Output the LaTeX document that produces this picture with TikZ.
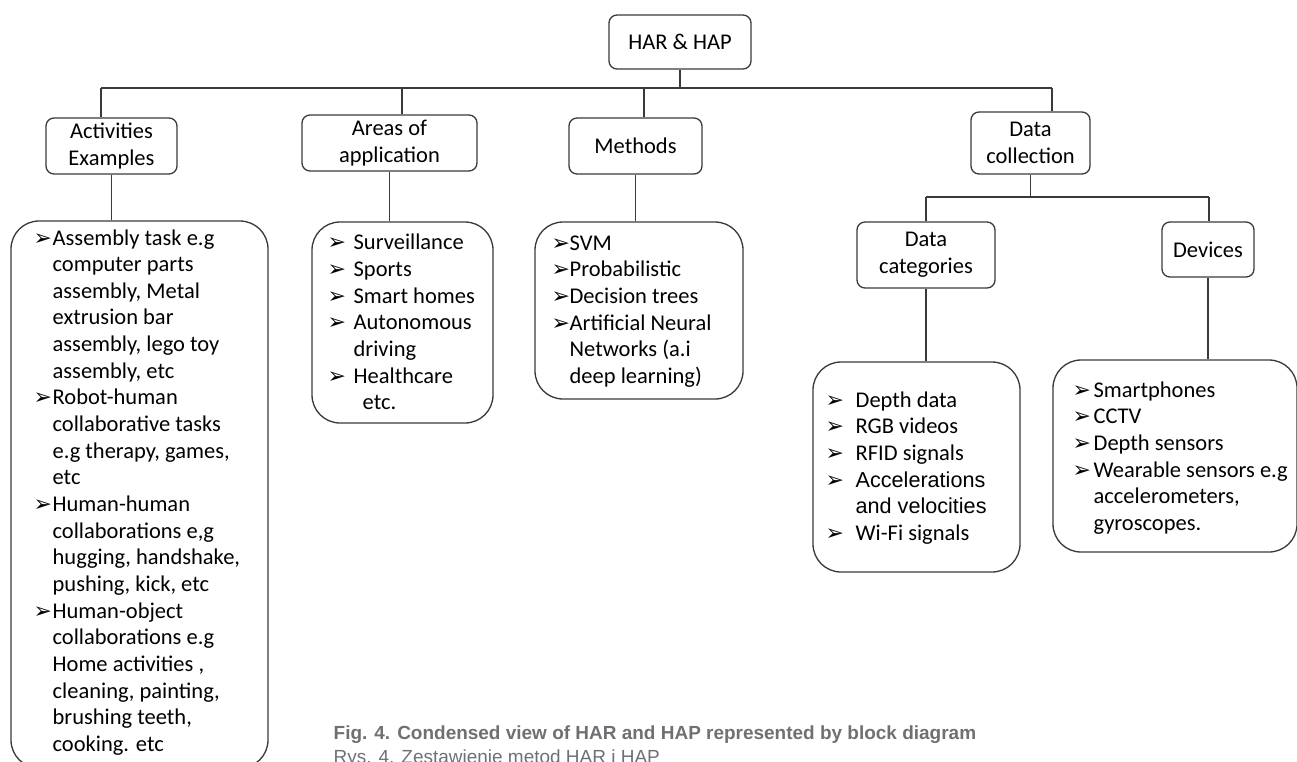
\documentclass[tikz,border=0pt]{standalone}
\usepackage{fontspec}
\setmainfont{Carlito}
\newfontfamily\dejavu{DejaVu Sans}
\newfontfamily\arialfont{Liberation Sans}
\usepackage{tikz}
\usetikzlibrary{positioning}
\usetikzlibrary{calc}

\definecolor{linegray}{HTML}{3A3A3A}
\definecolor{capgray}{HTML}{6F7073}
\newlength\px
\setlength\px{0.02cm}
\newcommand{\itm}[1]{\llap{\makebox[#1\px][l]{\dejavu\fontsize{12.5}{10}\selectfont ➢}}}
\newcommand{\mainsize}{\fontsize{12.8}{15.17}\selectfont}

\begin{document}
\begin{tikzpicture}[x=0.02cm,y=-0.02cm,line width=0.75pt,
    sz/.style 2 args={minimum width=#1*0.02cm,minimum height=#2*0.02cm},
    head node/.style={draw=linegray,rounded corners=0.16cm,inner sep=0pt,align=center,font=\mainsize},
    list box/.style={draw=linegray,rounded corners=0.56cm,inner sep=0pt},
    list text/.style={anchor=base west,inner sep=0pt,align=left,font=\mainsize},
    caption/.style={anchor=base west,inner sep=0pt,text=capgray}]

  \useasboundingbox (0,0) rectangle (1297,761);

  \node[head node,sz={142}{54}] (top) at (680,42) {HAR \& HAP};
  \node[head node,sz={131}{56}] (act) at (111.5,146) {Activities\\Examples};
  \node[head node,sz={175}{56}] (area) at (389.5,143) {Areas of\\application};
  \node[head node,sz={133}{56}] (meth) at (635.5,146) {Methods};
  \node[head node,sz={119}{62}] (datac) at (1030.5,143) {Data\\collection};
  \node[head node,sz={138}{66}] (cat) at (926,255) {Data\\categories};
  \node[head node,sz={92}{55}] (dev) at (1208,249.5) {Devices};

  \node[list box,sz={257}{547}] (actl) at (139.5,494.5) {};
  \node[list box,sz={181}{201}] (areal) at (402.5,322.5) {};
  \node[list box,sz={208}{177}] (methl) at (639,310.5) {};
  \node[list box,sz={207}{210}] (catl) at (916.5,467) {};
  \node[list box,sz={244}{192}] (devl) at (1175,456) {};

  % base west = baseline of the last line
  \node[list text] (actt) at (52,751.4) {\itm{19}Assembly task e.g\\computer parts\\assembly, Metal\\extrusion bar\\assembly, lego toy\\assembly, etc\\
    \itm{19}Robot-human\\collaborative tasks\\e.g therapy, games,\\etc\\
    \itm{19}Human-human\\collaborations e,g\\hugging, handshake,\\pushing, kick, etc\\
    \itm{19}Human-object\\collaborations e.g\\Home activities ,\\cleaning, painting,\\brushing teeth,\\cooking. etc};
  \node[list text] (areat) at (353,409.9) {\itm{26}Surveillance\\\itm{26}Sports\\\itm{26}Smart homes\\\itm{26}Autonomous\\driving\\\itm{26}Healthcare\\\hspace*{9\px}etc.};
  \node[list text] (metht) at (569,383.3) {\itm{18}SVM\\\itm{18}Probabilistic\\\itm{18}Decision trees\\\itm{18}Artificial Neural\\Networks (a.i\\deep learning)};
  \node[list text] (catt) at (855,540.3) {\itm{30}Depth data\\\itm{30}RGB videos\\\itm{30}RFID signals\\
    \itm{30}{\arialfont\fontsize{12.3}{15.17}\selectfont Accelerations}\\{\arialfont\fontsize{12.3}{15.17}\selectfont and velocities}\\\itm{30}Wi-Fi signals};
  \node[list text] (devt) at (1093,530.3) {\itm{21}Smartphones\\\itm{21}CCTV\\\itm{21}Depth sensors\\\itm{21}Wearable sensors e.g\\accelerometers,\\gyroscopes.};

  \node[caption,font=\arialfont\bfseries\fontsize{10.8}{12}\selectfont] (cap1) at (333,739) {Fig. 4. Condensed view of HAR and HAP represented by block diagram};
  \node[caption,font=\arialfont\fontsize{10.8}{12}\selectfont] (cap2) at (333,763) {Rys. 4. Zestawienie metod HAR i HAP};

  \coordinate (j0) at (680,88);
  \coordinate (ja) at (101,88);
  \coordinate (jb) at (402,88);
  \coordinate (jc) at (644,88);
  \coordinate (jd) at (1052,88);
  \coordinate (jf) at (926,197);
  \coordinate (jg) at (1209,197);

  \draw[linegray] (top) -- (j0);
  \draw[linegray] (ja) -- (jd);
  \draw[linegray] (ja) -- (ja |- act.north);
  \draw[linegray] (jb) -- (jb |- area.north);
  \draw[linegray] (jc) -- (jc |- meth.north);
  \draw[linegray] (jd) -- (jd |- datac.north);
  \draw[linegray] (act.south) -- (act.south |- actl.north);
  \draw[linegray] (area.south) -- (area.south |- areal.north);
  \draw[linegray] (meth.south) -- (meth.south |- methl.north);
  \draw[linegray] (datac.south) -- (datac.south |- jf);
  \draw[linegray] (jf) -- (jg);
  \draw[linegray] (jf) -- (cat);
  \draw[linegray] (jg) -- (jg |- dev.north);
  \draw[linegray] (cat.south) -- (cat.south |- catl.north);
  \draw[linegray] (dev.south) -- (dev.south |- devl.north);
\end{tikzpicture}
\end{document}
